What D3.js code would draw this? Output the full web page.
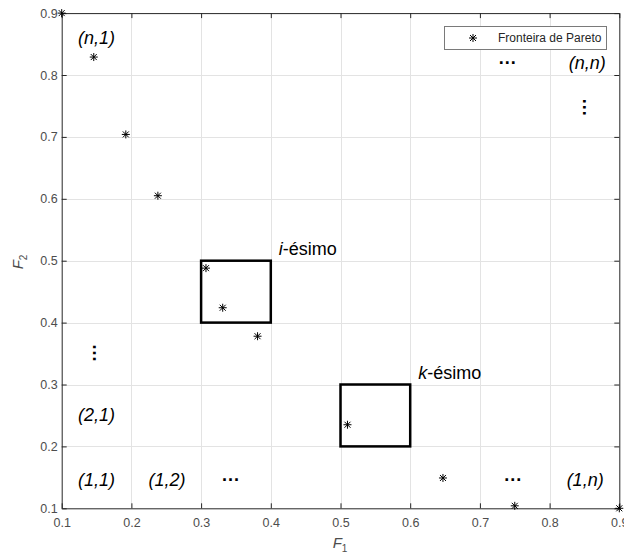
<!DOCTYPE html>
<html>
<head>
<meta charset="utf-8">
<script src="https://cdn.jsdelivr.net/npm/d3@7"></script>
<style>
  html, body { margin: 0; padding: 0; background: #fff; }
  svg { display: block; font-family: "Liberation Sans", Arial, Helvetica, sans-serif; }
</style>
</head>
<body>
<svg id="chart" width="624" height="554"></svg>
<script>
// Pareto front points (F1, F2)
const paretoF1 = [0.1, 0.146, 0.192, 0.238, 0.307, 0.331, 0.381, 0.51, 0.647, 0.75, 0.9];
const paretoF2 = [0.9, 0.829, 0.704, 0.605, 0.488, 0.424, 0.378, 0.235, 0.149, 0.104, 0.1];

// Highlighted grid cells (lower-left corner, side 0.1)
const cellF1 = [0.3, 0.5];
const cellF2 = [0.4, 0.2];
const cellSide = 0.1;
const cellNames = ["i", "k"];

// Axis ticks
const tickValues = [0.1, 0.2, 0.3, 0.4, 0.5, 0.6, 0.7, 0.8, 0.9];
const tickLabels = ["0.1", "0.2", "0.3", "0.4", "0.5", "0.6", "0.7", "0.8", "0.9"];

// Grid-cell index labels
const cellLabelText = ["(n,1)", "(n,n)", "(2,1)", "(1,1)", "(1,2)", "(1,n)"];
const cellLabelF1 = [0.15, 0.854, 0.15, 0.15, 0.251, 0.851];
const cellLabelF2 = [0.861, 0.82, 0.251, 0.147, 0.147, 0.146];

// Ellipsis markers between index labels
const dotsF1 = [0.343, 0.748, 0.74, 0.147, 0.851];
const dotsF2 = [0.147, 0.147, 0.82, 0.35, 0.747];
const dotsVertical = [false, false, false, true, true];

const legendLabel = "Fronteira de Pareto";

const W = 624, H = 554;
const margin = { top: 13.1, right: 4.7, bottom: 45.7, left: 61.7 };

const svg = d3.select("#chart");

const x = d3.scaleLinear().domain([0.1, 0.9]).range([margin.left, W - margin.right]);
const y = d3.scaleLinear().domain([0.1, 0.9]).range([H - margin.bottom, margin.top]);

const axisColor = "#262626";
const tickTextColor = "#4d4d4d";

// grid
const grid = svg.append("g").attr("stroke", "#e3e3e3").attr("stroke-width", 1);
grid.selectAll("line.gx").data(tickValues.slice(1, -1)).join("line")
  .attr("x1", d => Math.round(x(d)) + 0.5).attr("x2", d => Math.round(x(d)) + 0.5)
  .attr("y1", y(0.9)).attr("y2", y(0.1));
grid.selectAll("line.gy").data(tickValues.slice(1, -1)).join("line")
  .attr("y1", d => Math.round(y(d)) + 0.5).attr("y2", d => Math.round(y(d)) + 0.5)
  .attr("x1", x(0.1)).attr("x2", x(0.9));

// axes with inward ticks, box on all four sides
const fmt = (d, i) => tickLabels[i];
function styleAxis(g) {
  g.selectAll("path.domain").attr("stroke", axisColor).attr("stroke-width", 1);
  g.selectAll(".tick line").attr("stroke", axisColor);
  g.selectAll("text").attr("fill", tickTextColor).attr("font-size", 12.5);
}
svg.append("g").attr("transform", `translate(0,${y(0.1)})`)
  .call(d3.axisBottom(x).tickValues(tickValues).tickFormat(fmt).tickSizeInner(-5).tickSizeOuter(0).tickPadding(10))
  .call(styleAxis);
svg.append("g").attr("transform", `translate(${x(0.1)},0)`)
  .call(d3.axisLeft(y).tickValues(tickValues).tickFormat(fmt).tickSizeInner(-5).tickSizeOuter(0).tickPadding(4))
  .call(styleAxis);
svg.append("g").attr("transform", `translate(0,${y(0.9)})`)
  .call(d3.axisTop(x).tickValues(tickValues).tickFormat("").tickSizeInner(-5).tickSizeOuter(0))
  .call(styleAxis);
svg.append("g").attr("transform", `translate(${x(0.9)},0)`)
  .call(d3.axisRight(y).tickValues(tickValues).tickFormat("").tickSizeInner(-5).tickSizeOuter(0))
  .call(styleAxis);

// highlighted cells
svg.append("g").selectAll("rect").data(cellF1).join("rect")
  .attr("x", d => x(d))
  .attr("y", (d, i) => y(cellF2[i] + cellSide))
  .attr("width", d => x(d + cellSide) - x(d))
  .attr("height", (d, i) => y(cellF2[i]) - y(cellF2[i] + cellSide))
  .attr("fill", "none").attr("stroke", "#000").attr("stroke-width", 2.5);

// cell names: "i-ésimo", "k-ésimo"
const names = svg.append("g").attr("font-size", 18).attr("fill", "#000");
cellNames.forEach((n, i) => {
  const t = names.append("text")
    .attr("x", x(cellF1[i] + cellSide) + 8)
    .attr("y", y(cellF2[i] + cellSide) - 6);
  t.append("tspan").attr("font-style", "italic").text(n);
  t.append("tspan").text("-ésimo");
});

// index labels
svg.append("g").attr("font-size", 18).attr("font-style", "italic").attr("fill", "#000")
  .selectAll("text").data(cellLabelText).join("text")
  .attr("x", (d, i) => x(cellLabelF1[i]))
  .attr("y", (d, i) => y(cellLabelF2[i]))
  .attr("text-anchor", "middle").attr("dy", "0.35em")
  .text(d => d);

// ellipses
svg.append("g").attr("font-size", 18).attr("font-weight", "bold").attr("fill", "#000")
  .selectAll("text").data(dotsF1).join("text")
  .attr("transform", (d, i) => `translate(${x(d)},${y(dotsF2[i])})` + (dotsVertical[i] ? " rotate(90)" : ""))
  .attr("text-anchor", "middle").attr("dy", "0.1em")
  .attr("letter-spacing", 1)
  .text("...");

// asterisk marker
function asterisk(cx, cy, r) {
  const d = r * 0.75;
  return `M${cx - r},${cy}H${cx + r}M${cx},${cy - r}V${cy + r}` +
    `M${cx - d},${cy - d}L${cx + d},${cy + d}M${cx - d},${cy + d}L${cx + d},${cy - d}`;
}

svg.append("g").selectAll("path").data(paretoF1).join("path")
  .attr("d", (d, i) => asterisk(x(d), y(paretoF2[i]), 4))
  .attr("stroke", "#000").attr("stroke-width", 1).attr("fill", "none");

// axis titles
const xt = svg.append("text").attr("x", 340).attr("y", 548)
  .attr("text-anchor", "middle").attr("font-size", 15).attr("fill", tickTextColor);
xt.append("tspan").attr("font-style", "italic").text("F");
xt.append("tspan").attr("font-size", 10).attr("dy", 4).text("1");

const yt = svg.append("text").attr("transform", "translate(23,262) rotate(-90)")
  .attr("text-anchor", "middle").attr("font-size", 15).attr("fill", tickTextColor);
yt.append("tspan").attr("font-style", "italic").text("F");
yt.append("tspan").attr("font-size", 10).attr("dy", 4).text("2");

// legend
const lg = svg.append("g");
lg.append("rect").attr("x", 444.5).attr("y", 26.5).attr("width", 162).attr("height", 23)
  .attr("fill", "#fff").attr("stroke", "#7a7a7a").attr("stroke-width", 1);
lg.append("path").attr("d", asterisk(473, 38, 4))
  .attr("stroke", "#000").attr("stroke-width", 1).attr("fill", "none");
lg.append("text").attr("x", 498).attr("y", 42).attr("font-size", 12).attr("fill", "#262626")
  .text(legendLabel);
</script>
</body>
</html>
